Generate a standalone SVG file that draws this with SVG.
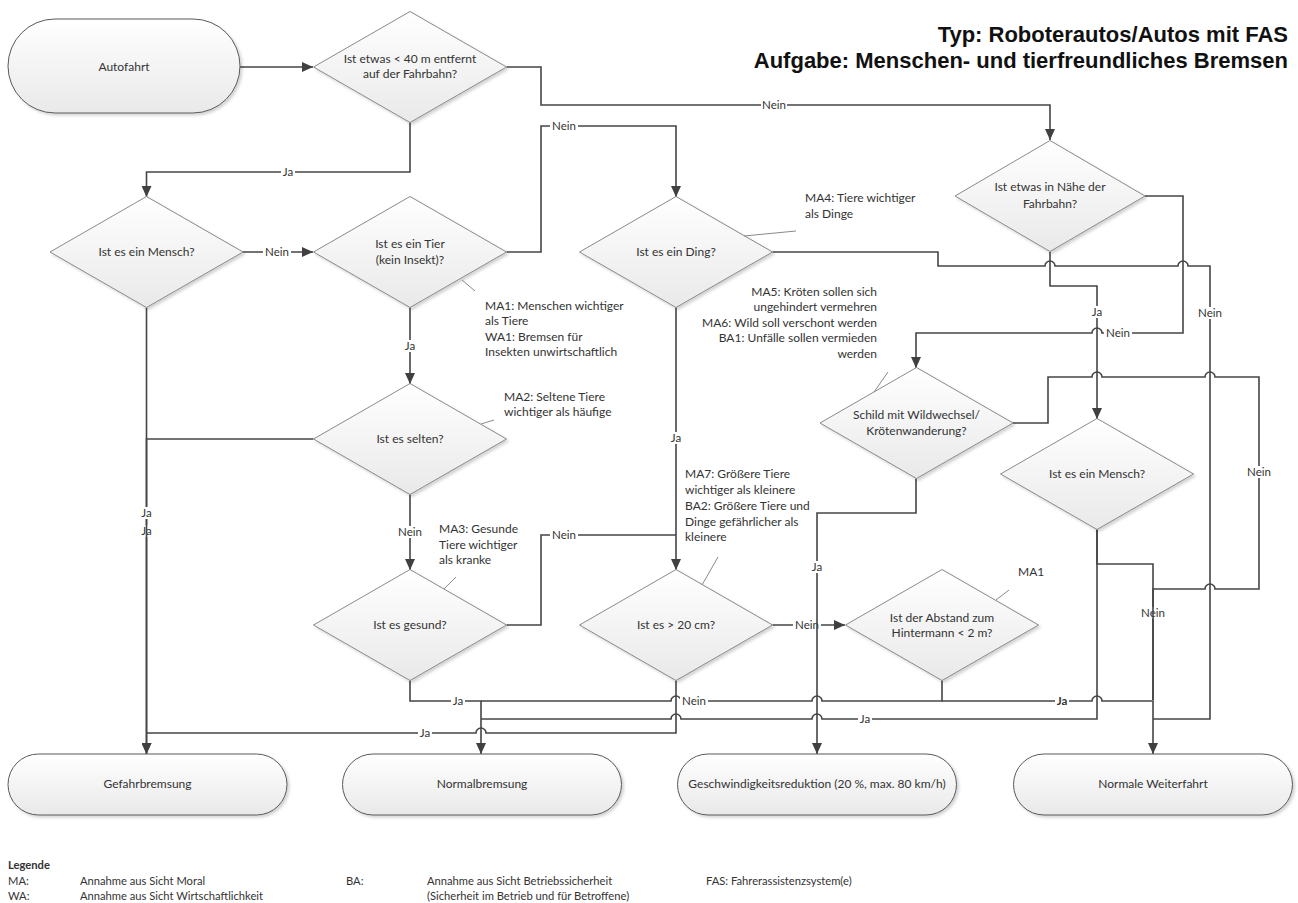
<svg xmlns="http://www.w3.org/2000/svg" width="1298" height="903" viewBox="0 0 1298 903">
<defs>
<linearGradient id="g" x1="0" y1="0" x2="0" y2="1">
<stop offset="0" stop-color="#ffffff"/>
<stop offset="1" stop-color="#e9e9e9"/>
</linearGradient>
<filter id="sh" x="-10%" y="-10%" width="125%" height="130%">
<feDropShadow dx="2" dy="2" stdDeviation="1.5" flood-color="#000" flood-opacity="0.18"/>
</filter>
<marker id="ar" markerUnits="userSpaceOnUse" markerWidth="11" markerHeight="10" refX="11" refY="5" orient="auto">
<path d="M0,0 L11,5 L0,10 z" fill="#404040"/>
</marker>
<style>
.d{fill:url(#g);stroke:#8a8a8a;stroke-width:1;filter:url(#sh)}
.t{fill:url(#g);stroke:#5a5a5a;stroke-width:1;filter:url(#sh)}
.c{fill:none;stroke:#454545;stroke-width:1.6}
.a{marker-end:url(#ar)}
.tx{font-family:Lato,"Open Sans",sans-serif;font-size:12px;fill:#333;text-anchor:middle}
.an{font-family:Lato,"Open Sans",sans-serif;font-size:12px;fill:#333}
.lg{font-family:Lato,"Open Sans",sans-serif;font-size:11.2px;fill:#333}
.lb{font-family:Lato,"Open Sans",sans-serif;font-size:11.5px;fill:#333;text-anchor:middle}
.bg{fill:#fff}
.ld{stroke:#8a8a8a;stroke-width:1;fill:none}
.ti{font-family:"Liberation Sans",Arial,sans-serif;font-weight:bold;font-size:22px;fill:#111;text-anchor:end}
</style>
</defs>
<rect width="1298" height="903" fill="#fff"/>

<g id="title">
<text class="ti" x="1288" y="42">Typ: Roboterautos/Autos mit FAS</text>
<text class="ti" x="1288" y="68">Aufgabe: Menschen- und tierfreundliches Bremsen</text>
</g>

<g id="connectors">
<g id="e1"><path class="c a" d="M240,67 H313"/></g>
<g id="e2"><path class="c a" d="M506.5,67 H541 V105 H1050 V140"/><rect class="bg" x="761" y="99" width="26" height="12"/><text class="lb" x="774" y="109">Nein</text></g>
<g id="e3"><path class="c a" d="M410,122.5 V172 H146.5 V197"/><rect class="bg" x="281" y="166" width="14" height="12"/><text class="lb" x="288" y="176">Ja</text></g>
<g id="e4"><path class="c a" d="M243,252 H313"/><rect class="bg" x="263" y="246" width="28" height="12"/><text class="lb" x="277" y="256">Nein</text></g>
<g id="e8"><path class="c a" d="M313.5,439 H146.5 V754"/><rect class="bg" x="140" y="525" width="13" height="12"/><text class="lb" x="146.5" y="535">Ja</text></g>
<g id="e5"><path class="c a" d="M146.5,307.5 V754"/><rect class="bg" x="140" y="507" width="13" height="12"/><text class="lb" x="146.5" y="517">Ja</text></g>
<g id="e6"><path class="c a" d="M506.5,252 H541 V126 H676 V197"/><rect class="bg" x="550" y="120" width="28" height="12"/><text class="lb" x="564" y="130">Nein</text></g>
<g id="e7"><path class="c a" d="M410,307.5 V384"/><rect class="bg" x="403" y="340" width="14" height="12"/><text class="lb" x="410" y="350">Ja</text></g>
<g id="e9"><path class="c a" d="M410,494.5 V570"/><rect class="bg" x="396" y="526" width="28" height="12"/><text class="lb" x="410" y="536">Nein</text></g>
<g id="e10"><path class="c" d="M506.5,625 H541 V535 H676"/><rect class="bg" x="550" y="529" width="28" height="12"/><text class="lb" x="564" y="539">Nein</text></g>
<g id="e23"><path class="c a" d="M676,307.5 V570"/><rect class="bg" x="669" y="432" width="14" height="12"/><text class="lb" x="676" y="442">Ja</text></g>
<g id="e11"><path class="c a" d="M410,680.5 V701 H481 V754"/><rect class="bg" x="451" y="695" width="14" height="12"/><text class="lb" x="458" y="705">Ja</text></g>
<g id="e12"><path class="c a" d="M772.5,625 H845"/><rect class="bg" x="793" y="619" width="28" height="12"/><text class="lb" x="807" y="629">Nein</text></g>
<g id="e13"><path class="c" d="M676,680.5 V733 H486 A5,5 0 0 0 476,733 H146.5"/><rect class="bg" x="418" y="727" width="14" height="12"/><text class="lb" x="425" y="737">Ja</text></g>
<g id="e14"><path class="c" d="M942,680.5 V701 H822 A5,5 0 0 0 812,701 H681 A5,5 0 0 0 671,701 H481"/><rect class="bg" x="680" y="695" width="28" height="12"/><text class="lb" x="694" y="705">Nein</text></g>
<g id="e15"><path class="c a" d="M942,701 H1092 A5,5 0 0 1 1102,701 H1153 V754"/><rect class="bg" x="1055" y="695" width="14" height="12"/><text class="lb" x="1062" y="705" font-weight="bold">Ja</text></g>
<g id="e16"><path class="c a" d="M916,478.5 V513 H817 V754"/><rect class="bg" x="810" y="561" width="14" height="12"/><text class="lb" x="817" y="571">Ja</text></g>
<g id="e17"><path class="c a" d="M1050,252 V286 H1097 V419"/><rect class="bg" x="1090" y="306" width="14" height="12"/><text class="lb" x="1097" y="316">Ja</text></g>
<g id="e18"><path class="c a" d="M1145,196 H1183 V333 H1102 A5,5 0 0 0 1092,333 H916 V368"/><rect class="bg" x="1104" y="327" width="28" height="12"/><text class="lb" x="1118" y="337">Nein</text></g>
<g id="e19"><path class="c" d="M772.5,252 H938 V266 H1045 A5,5 0 0 1 1055,266 H1178 A5,5 0 0 1 1188,266 H1210 V719 H1153"/><rect class="bg" x="1196" y="307" width="28" height="12"/><text class="lb" x="1210" y="317">Nein</text></g>
<g id="e21"><path class="c" d="M1097,529.5 V719 H822 A5,5 0 0 0 812,719 H681 A5,5 0 0 0 671,719 H481"/><rect class="bg" x="858" y="713" width="14" height="12"/><text class="lb" x="865" y="723">Ja</text></g>
<g id="e22"><path class="c" d="M1097,529.5 V564 H1153 V700"/><rect class="bg" x="1139" y="607" width="28" height="12"/><text class="lb" x="1153" y="617">Nein</text></g>
<g id="e20"><path class="c" d="M1013,423 H1048 V377 H1092 A5,5 0 0 1 1102,377 H1205 A5,5 0 0 1 1215,377 H1259 V589 H1215 A5,5 0 0 0 1205,589 H1153 V700"/><rect class="bg" x="1245" y="466" width="28" height="12"/><text class="lb" x="1259" y="476">Nein</text></g>
</g>

<g id="n-start"><rect class="t" x="8" y="19" width="232" height="94" rx="47"/><text class="tx" x="124" y="71">Autofahrt</text></g>
<g id="n-d1"><polygon class="d" points="410,11.5 506.5,67 410,122.5 313.5,67"/><text class="tx" x="410" y="63">Ist etwas &lt; 40 m entfernt</text><text class="tx" x="410" y="78">auf der Fahrbahn?</text></g>
<g id="n-d2"><polygon class="d" points="146.5,196.5 243,252 146.5,307.5 50,252"/><text class="tx" x="146.5" y="256">Ist es ein Mensch?</text></g>
<g id="n-d3"><polygon class="d" points="410,196.5 506.5,252 410,307.5 313.5,252"/><text class="tx" x="410" y="248">Ist es ein Tier</text><text class="tx" x="410" y="264">(kein Insekt)?</text></g>
<g id="n-d4"><polygon class="d" points="676,196.5 772.5,252 676,307.5 579.5,252"/><text class="tx" x="676" y="256">Ist es ein Ding?</text></g>
<g id="n-d5"><polygon class="d" points="1050,140.5 1145,196 1050,251.5 955,196"/><text class="tx" x="1050" y="191">Ist etwas in Nähe der</text><text class="tx" x="1050" y="208">Fahrbahn?</text></g>
<g id="n-d6"><polygon class="d" points="410,383.5 506.5,439 410,494.5 313.5,439"/><text class="tx" x="410" y="443">Ist es selten?</text></g>
<g id="n-d7"><polygon class="d" points="410,569.5 506.5,625 410,680.5 313.5,625"/><text class="tx" x="410" y="629">Ist es gesund?</text></g>
<g id="n-d8"><polygon class="d" points="676,569.5 772.5,625 676,680.5 579.5,625"/><text class="tx" x="676" y="629">Ist es &gt; 20 cm?</text></g>
<g id="n-d9"><polygon class="d" points="942,569.5 1038.5,625 942,680.5 845.5,625"/><text class="tx" x="942" y="622">Ist der Abstand zum</text><text class="tx" x="942" y="637">Hintermann &lt; 2 m?</text></g>
<g id="n-d10"><polygon class="d" points="916.5,367.5 1013,423 916.5,478.5 820,423"/><text class="tx" x="916.5" y="419">Schild mit Wildwechsel/</text><text class="tx" x="916.5" y="435">Krötenwanderung?</text></g>
<g id="n-d11"><polygon class="d" points="1097,418.5 1193.5,474 1097,529.5 1000.5,474"/><text class="tx" x="1097" y="478">Ist es ein Mensch?</text></g>

<g id="n-gefahr"><rect class="t" x="8" y="754" width="279" height="61" rx="30.5"/><text class="tx" x="147.5" y="788">Gefahrbremsung</text></g>
<g id="n-normal"><rect class="t" x="342.5" y="754" width="279" height="61" rx="30.5"/><text class="tx" x="482" y="788">Normalbremsung</text></g>
<g id="n-geschw"><rect class="t" x="677.5" y="754" width="279" height="61" rx="30.5"/><text class="tx" x="817" y="788">Geschwindigkeitsreduktion (20 %, max. 80 km/h)</text></g>
<g id="n-weiter"><rect class="t" x="1013.5" y="754" width="279" height="61" rx="30.5"/><text class="tx" x="1153" y="788">Normale Weiterfahrt</text></g>

<g id="annotations">
<line class="ld" x1="462" y1="280" x2="475" y2="291"/>
<text class="an" x="485" y="310">MA1: Menschen wichtiger</text>
<text class="an" x="485" y="325">als Tiere</text>
<text class="an" x="485" y="341">WA1: Bremsen für</text>
<text class="an" x="485" y="356">Insekten unwirtschaftlich</text>
<line class="ld" x1="481" y1="424" x2="494" y2="420"/>
<text class="an" x="504" y="401">MA2: Seltene Tiere</text>
<text class="an" x="504" y="416">wichtiger als häufige</text>
<line class="ld" x1="444" y1="589" x2="456" y2="577"/>
<text class="an" x="439" y="533">MA3: Gesunde</text>
<text class="an" x="439" y="549">Tiere wichtiger</text>
<text class="an" x="439" y="564">als kranke</text>
<line class="ld" x1="744" y1="236" x2="796" y2="231"/>
<text class="an" x="805" y="202">MA4: Tiere wichtiger</text>
<text class="an" x="805" y="218">als Dinge</text>
<line class="ld" x1="874" y1="392" x2="888" y2="372"/>
<text class="an" x="877" y="296" text-anchor="end">MA5: Kröten sollen sich</text>
<text class="an" x="877" y="311" text-anchor="end">ungehindert vermehren</text>
<text class="an" x="877" y="327" text-anchor="end">MA6: Wild soll verschont werden</text>
<text class="an" x="877" y="342" text-anchor="end">BA1: Unfälle sollen vermieden</text>
<text class="an" x="877" y="358" text-anchor="end">werden</text>
<line class="ld" x1="702" y1="585" x2="718" y2="557"/>
<text class="an" x="685" y="478">MA7: Größere Tiere</text>
<text class="an" x="685" y="494">wichtiger als kleinere</text>
<text class="an" x="685" y="510">BA2: Größere Tiere und</text>
<text class="an" x="685" y="526">Dinge gefährlicher als</text>
<text class="an" x="685" y="541">kleinere</text>
<line class="ld" x1="996" y1="600" x2="1009" y2="590"/>
<text class="an" x="1018" y="576">MA1</text>
</g>

<g id="legend">
<text class="lg" x="8" y="869" font-weight="bold">Legende</text>
<text class="lg" x="8" y="885">MA:</text>
<text class="lg" x="80" y="885">Annahme aus Sicht Moral</text>
<text class="lg" x="8" y="900">WA:</text>
<text class="lg" x="80" y="900">Annahme aus Sicht Wirtschaftlichkeit</text>
<text class="lg" x="346" y="885">BA:</text>
<text class="lg" x="427" y="885">Annahme aus Sicht Betriebssicherheit</text>
<text class="lg" x="427" y="900">(Sicherheit im Betrieb und für Betroffene)</text>
<text class="lg" x="706" y="885">FAS: Fahrerassistenzsystem(e)</text>
</g>
</svg>
